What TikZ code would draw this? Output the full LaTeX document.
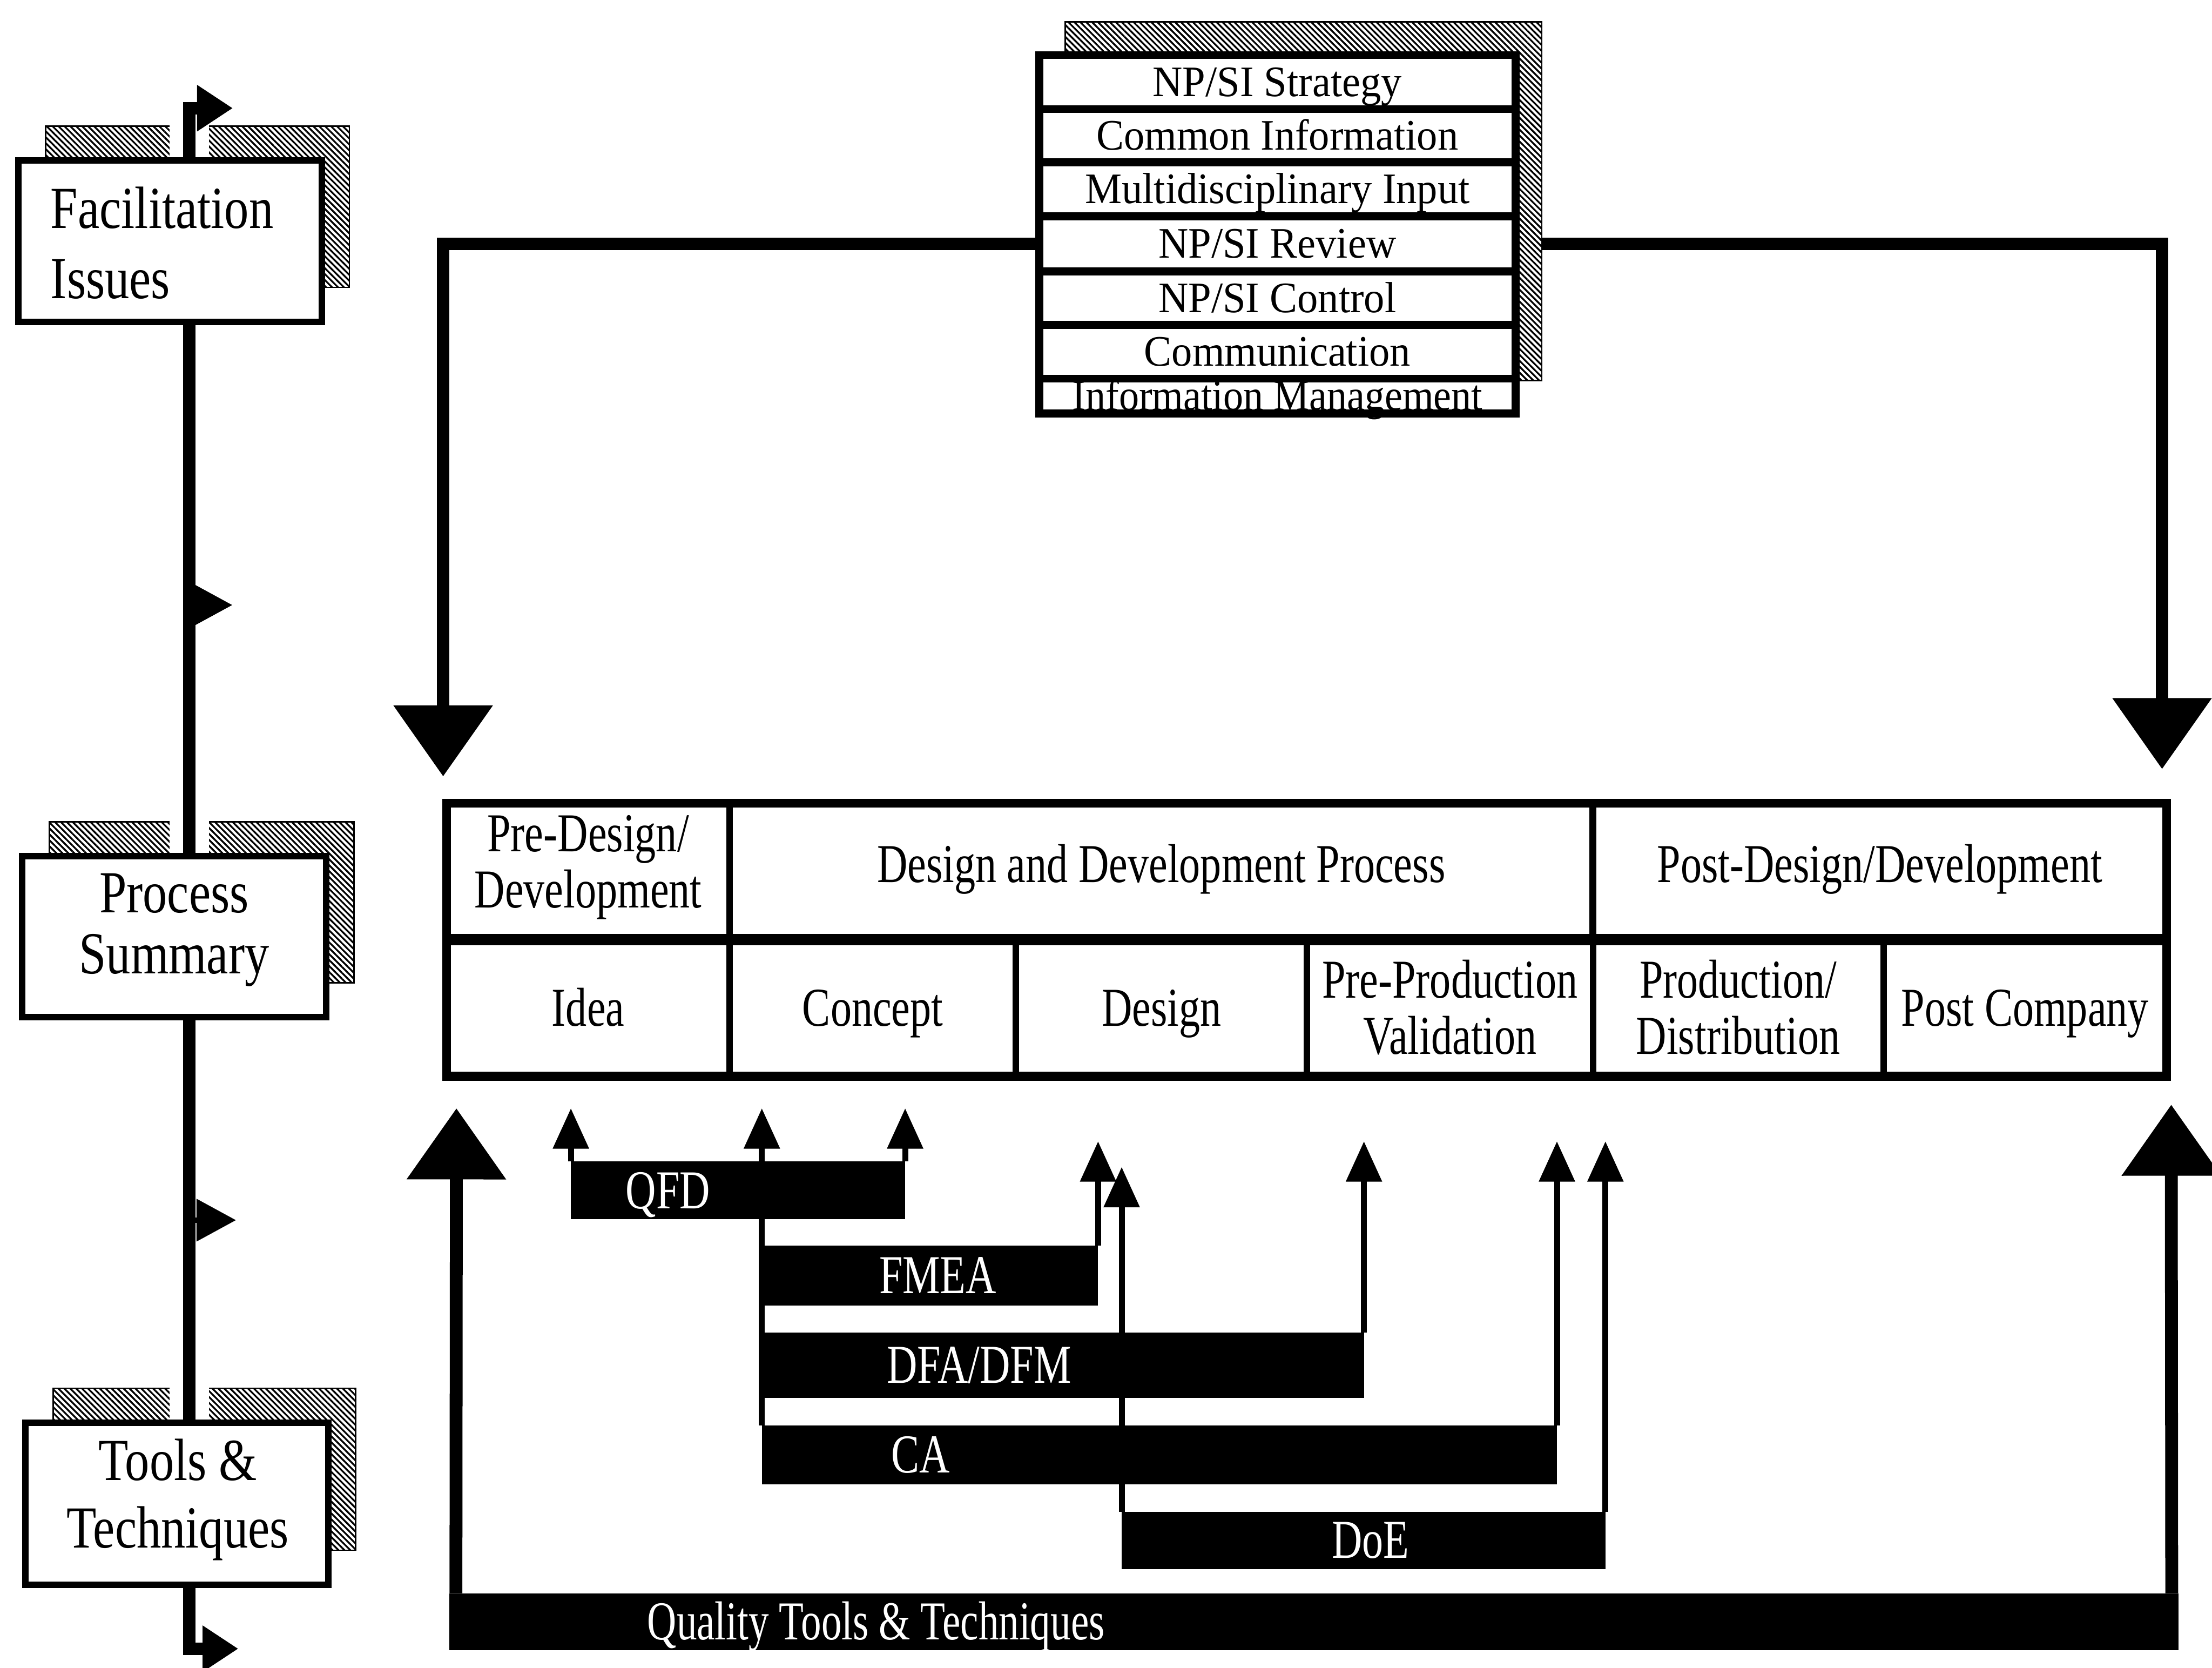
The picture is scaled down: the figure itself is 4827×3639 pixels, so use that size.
\documentclass[tikz,border=0pt]{standalone}
\usepackage{fontspec}
\setmainfont{Liberation Serif}
\usetikzlibrary{arrows.meta,patterns.meta}
\pgfdeclarelayer{back}
\pgfdeclarelayer{mid}
\pgfsetlayers{back,mid,main}
% horizontally condensed text
\newcommand{\nar}[2][0.77]{\scalebox{#1}[1]{#2}}

\begin{document}
\begin{tikzpicture}[x=0.01cm, y=-0.01cm,
  sbox/.style={draw, fill=white, line width=0.14cm, inner sep=0pt, outer sep=0pt},
  lrow/.style={draw, fill=white, line width=0.17cm, inner sep=0pt, outer sep=0pt,
    minimum width=10.39cm, font=\fontsize{27}{30}\selectfont, text height=17.7pt, text depth=0pt},
  cell/.style={draw, line width=0.14cm, inner sep=0pt, outer sep=0pt, minimum height=2.98cm,
    font=\fontsize{34}{35}\selectfont, text height=22.3pt, text depth=0pt},
  twoline/.style={text depth=35pt},
  raised/.style={text depth=8.6pt},
  raisedtwo/.style={text depth=47pt},
  toolbar/.style={fill=black, inner sep=0pt, outer sep=0pt},
  sidetxt/.style={inner sep=0pt},
  bartxt/.style={inner sep=0pt, text=white, anchor=west, font=\fontsize{34}{35}\selectfont,
    text height=22.3pt, text depth=0pt},
  shadowbox/.style={preaction={fill=white},
    pattern={Lines[angle=-45,distance=2.6pt,line width=1.1pt]}, pattern color=black,
    draw=black, line width=0.03cm},
  linehalo/.style={white, line width=0.85cm},
  mainline/.style={line width=0.27cm},
  flagarrow/.style={line width=0.27cm, line join=miter, -{Triangle[length=0.78cm,width=0.96cm]}},
  flagthin/.style={line width=0.12cm, -{Triangle[length=0.86cm,width=0.9cm]}},
  bigarrow/.style={line width=0.28cm, line join=miter, -{Triangle[length=1.55cm,width=2.1cm]}},
  toolarrow/.style={line width=0.13cm, -{Triangle[length=0.88cm,width=0.76cm]}}
]
\useasboundingbox (0,0) rectangle (4827,3639);
\begin{pgfonlayer}{back}
  \fill[white] (0,0) rectangle (4827,3639);
\end{pgfonlayer}

% ---------- coordinates for free ends ----------
\coordinate (ltop) at (413,236);
\coordinate (ftop) at (508,236);
\coordinate (lbot) at (413,3597);
\coordinate (fbot) at (520,3597);
\coordinate (m1) at (413,1320);
\coordinate (f1) at (507,1320);
\coordinate (m2) at (413,2662);
\coordinate (f2) at (515,2662);
\coordinate (dlTip) at (967,1694);
\coordinate (drTip) at (4718,1678);
\coordinate (ulTip) at (996,2418);
\coordinate (urTip) at (4738,2410);
\coordinate (yA) at (0,2418);
\coordinate (yB) at (0,2490);
\coordinate (yC) at (0,2546);

% ---------- left column boxes ----------
\node[sbox, minimum width=6.62cm, minimum height=3.52cm] (fac) at (371,526) {};
\node[sbox, minimum width=6.64cm, minimum height=3.51cm] (proc) at (380,2043.5) {};
\node[sbox, minimum width=6.60cm, minimum height=3.53cm] (tools) at (386,3280.5) {};

\node[sidetxt, anchor=base west, font=\fontsize{37}{43.5}\selectfont] (facT) at (110,498)
  {\nar[0.82]{\begin{tabular}[t]{@{}l@{}}Facilitation\\Issues\end{tabular}}};
\node[sidetxt, anchor=base, font=\fontsize{37}{38}\selectfont] (procT) at (380,1991)
  {\nar[0.82]{\begin{tabular}[t]{@{}c@{}}Process\\Summary\end{tabular}}};
\node[sidetxt, anchor=base, font=\fontsize{37}{42}\selectfont] (toolT) at (388,3229)
  {\nar[0.82]{\begin{tabular}[t]{@{}c@{}}Tools \&\\Techniques\end{tabular}}};

% ---------- NP/SI list ----------
\node[lrow, minimum height=1.18cm] (r1) at (2787.5,179) {\nar[0.95]{NP/SI Strategy}};
\node[lrow, minimum height=1.16cm] (r2) at (2787.5,296) {\nar[0.95]{Common Information}};
\node[lrow, minimum height=1.18cm] (r3) at (2787.5,413) {\nar[0.95]{Multidisciplinary Input}};
\node[lrow, minimum height=1.20cm] (r4) at (2787.5,532) {\nar[0.95]{NP/SI Review}};
\node[lrow, minimum height=1.17cm] (r5) at (2787.5,650.5) {\nar[0.95]{NP/SI Control}};
\node[lrow, minimum height=1.17cm] (r6) at (2787.5,767.5) {\nar[0.95]{Communication}};
\node[lrow, minimum height=0.76cm] (r7) at (2787.5,864) {\nar[0.92]{Information Management}};

% ---------- process table ----------
\node[cell, raisedtwo, minimum width=6.17cm] (hpre) at (1283.5,1901)
  {\nar{\begin{tabular}[t]{@{}c@{}}Pre-Design/\\Development\end{tabular}}};
\node[cell, raised, minimum width=18.84cm] (hddp) at (2534,1901) {\nar{Design and Development Process}};
\node[cell, raised, minimum width=12.52cm] (hpost) at (4102,1901) {\nar{Post-Design/Development}};
\node[cell, minimum width=6.17cm] (cidea) at (1283.5,2199) {\nar{Idea}};
\node[cell, minimum width=6.25cm] (cconc) at (1904.5,2199) {\nar{Concept}};
\node[cell, minimum width=6.35cm] (cdes) at (2534.5,2199) {\nar{Design}};
\node[cell, twoline, minimum width=6.24cm] (cpre) at (3164,2199)
  {\nar{\begin{tabular}[t]{@{}c@{}}Pre-Production\\Validation\end{tabular}}};
\node[cell, twoline, minimum width=6.34cm] (cprod) at (3793,2199)
  {\nar{\begin{tabular}[t]{@{}c@{}}Production/\\Distribution\end{tabular}}};
\node[cell, minimum width=6.18cm] (cpost) at (4419,2199) {\nar{Post Company}};
\draw[line width=0.19cm] (hpre.north west) rectangle (cpost.south east);
\draw[line width=0.24cm] (cidea.north west) -- (cpost.north east);

% ---------- tool bars ----------
\node[toolbar, minimum width=7.29cm, minimum height=1.26cm] (qfd) at (1610.5,2597) {};
\node[toolbar, minimum width=7.33cm, minimum height=1.30cm] (fmea) at (2029.5,2783) {};
\node[toolbar, minimum width=13.13cm, minimum height=1.43cm] (dfa) at (2319.5,2978.5) {};
\node[toolbar, minimum width=17.34cm, minimum height=1.28cm] (ca) at (2530,3174) {};
\node[toolbar, minimum width=10.55cm, minimum height=1.25cm] (doe) at (2975.5,3360.5) {};
\node[toolbar, minimum width=37.71cm, minimum height=1.24cm] (qtt) at (2867.5,3538) {};

\node[bartxt] (qfdT) at ([xshift=1.19cm]qfd.west) {\nar{QFD}};
\node[bartxt] (fmeaT) at ([xshift=2.55cm]fmea.west) {\nar{FMEA}};
\node[bartxt] (dfaT) at ([xshift=2.72cm]dfa.west) {\nar{DFA/DFM}};
\node[bartxt] (caT) at ([xshift=2.82cm]ca.west) {\nar{CA}};
\node[bartxt] (doeT) at ([xshift=4.58cm]doe.west) {\nar{DoE}};
\node[bartxt] (qttT) at ([xshift=4.31cm]qtt.west) {\nar[0.74]{Quality Tools \& Techniques}};

% ---------- tool arrows up to the stages ----------
\draw[toolarrow] (qfd.north west) -- (qfd.north west |- yA);
\draw[toolarrow] (ca.north west) -- (ca.north west |- yA);
\draw[toolarrow] (qfd.north east) -- (qfd.north east |- yA);
\draw[toolarrow] (fmea.north east) -- (fmea.north east |- yB);
\draw[toolarrow] (doe.north west) -- (doe.north west |- yC);
\draw[toolarrow] (dfa.north east) -- (dfa.north east |- yB);
\draw[toolarrow] (ca.north east) -- (ca.north east |- yB);
\draw[toolarrow] (doe.north east) -- (doe.north east |- yB);

% ---------- quality tools arrows ----------
\draw[bigarrow] ([xshift=0.14cm]qtt.north west) -- (ulTip);
\draw[bigarrow] ([xshift=-0.15cm]qtt.north east) -- (urTip);

% ---------- left spine with flags ----------
\draw[mainline] (fac.south -| ltop) -- (proc.north -| ltop);
\draw[mainline] (proc.south -| ltop) -- (tools.north -| ltop);
\draw[flagarrow] (fac.north -| ltop) -- (ltop) -- (ftop);
\draw[flagarrow] (tools.south -| ltop) -- (lbot) -- (fbot);
\draw[flagthin] (m1) -- (f1);
\draw[flagthin] (m2) -- (f2);

% ---------- facilitation arrows down to the process ----------
\begin{pgfonlayer}{back}
  \draw[bigarrow] (r4.west) -| (dlTip);
  \draw[bigarrow] (r4.east) -| (drTip);
\end{pgfonlayer}

% ---------- hatched drop shadows ----------
\begin{pgfonlayer}{mid}
  \path[shadowbox] ([xshift=0.6cm,yshift=0.75cm]fac.south west) rectangle ([xshift=0.6cm,yshift=0.75cm]fac.north east);
  \path[shadowbox] ([xshift=0.6cm,yshift=0.75cm]proc.south west) rectangle ([xshift=0.6cm,yshift=0.75cm]proc.north east);
  \path[shadowbox] ([xshift=0.6cm,yshift=0.75cm]tools.south west) rectangle ([xshift=0.6cm,yshift=0.75cm]tools.north east);
  \path[shadowbox] ([xshift=0.57cm,yshift=0.72cm]r7.south west) rectangle ([xshift=0.57cm,yshift=0.72cm]r1.north east);
  \draw[linehalo] (ltop) -- (lbot);
\end{pgfonlayer}
\end{tikzpicture}
\end{document}
